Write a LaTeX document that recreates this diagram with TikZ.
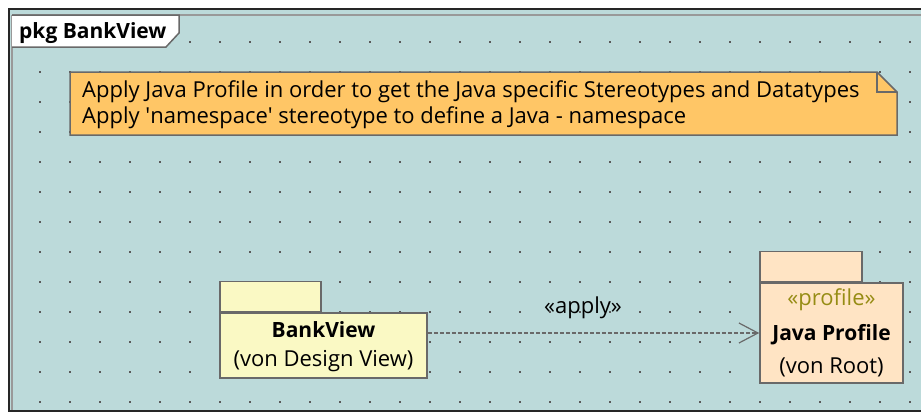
\documentclass[tikz,border=0pt]{standalone}
\usepackage{fontspec}
\setmainfont{Open Sans}
\usetikzlibrary{arrows.meta}
\definecolor{diagbg}{RGB}{188,218,218}
\definecolor{notefill}{RGB}{255,198,102}
\definecolor{pkgyellow}{RGB}{250,249,196}
\definecolor{pkgpeach}{RGB}{255,228,196}
\definecolor{stereo}{RGB}{150,140,20}
\definecolor{edge}{RGB}{105,105,105}
\tikzset{
  pkgbody/.style={draw=edge,line width=1.5pt,inner sep=0pt},
  pkgtab/.style={draw=edge,line width=1.5pt,inner sep=0pt,anchor=south west,minimum height=30pt},
  lbl/.style={anchor=base,inner sep=0pt,font=\fontsize{22}{26}\selectfont},
  bold lbl/.style={lbl,font=\bfseries\fontsize{21}{26}\selectfont},
}
\begin{document}
\begin{tikzpicture}[x=1pt,y=-1pt]
\useasboundingbox (0,0) rectangle (921,413);
\fill[white] (0,0) rectangle (921,413);
\fill[diagbg] (9,9) rectangle (921,411);
% grid dots
\foreach \i in {0,...,29} \foreach \j in {0,...,12}
  \fill[black!65] (39+30*\i,41+30*\j) rectangle ++(2,2);
% frame
\draw[black!40,line width=1.5pt] (12,15) -- (925,15);
\draw[black!40,line width=1.5pt] (12,15) -- (12,411);
\draw[black!85,line width=2pt] (925,9) -- (9,9) -- (9,411) -- (925,411);
% name tab
\draw[edge,fill=white,line width=1.5pt] (12,15) -- (179,15) -- (179,33) -- (166,47) -- (12,47);
\node[bold lbl,anchor=base west] (title) at (19,38) {pkg BankView};
% note
\draw[edge,fill=notefill,line width=1.5pt] (70,72) -- (877,72) -- (897,92) -- (897,135) -- (70,135) -- cycle;
\draw[edge,line width=1.5pt] (877,72) -- (877,92) -- (897,92);
\node[lbl,anchor=base west] (note1) at (82,97) {Apply Java Profile in order to get the Java specific Stereotypes and Datatypes};
\node[lbl,anchor=base west] (note2) at (82,123) {Apply \textquotesingle namespace\textquotesingle{} stereotype to define a Java - namespace};
% packages
\node[pkgbody,fill=pkgyellow,minimum width=207pt,minimum height=65pt] (bank) at (323.5,345.5) {};
\node[pkgtab,fill=pkgyellow,minimum width=101pt] (banktab) at (bank.north west) {};
\node[bold lbl] (bankname) at (323.5,337) {BankView};
\node[lbl] (bankfrom) at (323.5,366) {(von Design View)};
\node[pkgbody,fill=pkgpeach,minimum width=143pt,minimum height=100pt] (jp) at (831.5,333) {};
\node[pkgtab,fill=pkgpeach,minimum width=102pt] (jptab) at (jp.north west) {};
\node[lbl,text=stereo] (jpstereo) at (831.5,305) {«profile»};
\node[bold lbl] (jpname) at (831.5,340) {Java Profile};
\node[lbl] (jpfrom) at (831.5,373) {(von Root)};
% apply dependency
\draw[edge,line width=1.2pt,dash pattern=on 4pt off 2pt,-{Straight Barb[length=19pt,width=20pt]}] (jp.west -| bank.east) -- (jp.west);
\node[lbl] (applylbl) at (583,313) {«apply»};
\end{tikzpicture}
\end{document}
